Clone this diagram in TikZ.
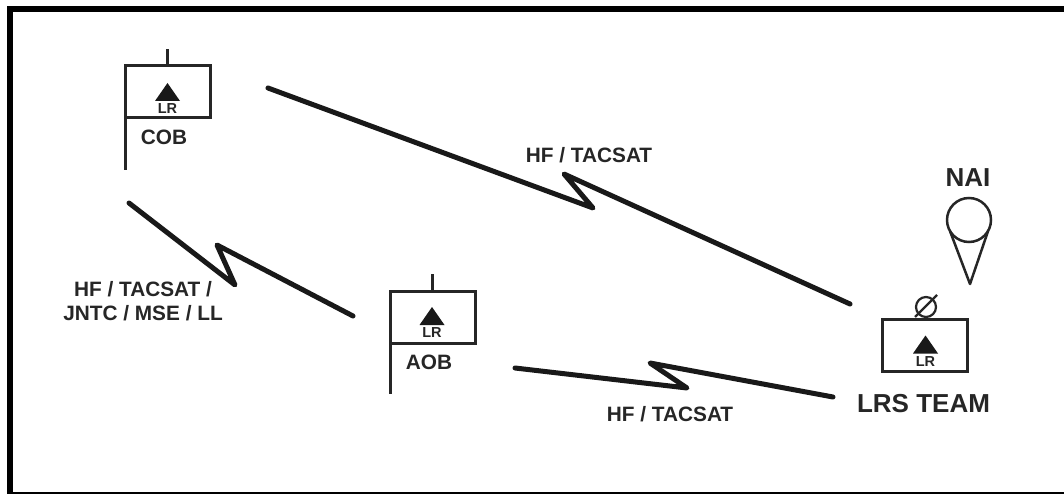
\documentclass[tikz,border=0pt]{standalone}
\usepackage{fontspec}
\setmainfont{Liberation Sans}
\tikzset{
  x=1pt,y=-1pt,
  bolt/.style={draw=black!90,line width=5pt,line join=round,line cap=round},
  unitbox/.style={draw=black!85,line width=3pt,minimum width=85pt,minimum height=52pt,inner sep=0pt,outer sep=0pt},
  staff/.style={draw=black!85,line width=3pt},
  tri/.style={fill=black!90,draw=none},
  lrtext/.style={font=\bfseries\fontsize{14.5}{15}\selectfont,text=black!85,inner sep=0pt},
  lbl/.style={font=\bfseries\fontsize{20.8}{24}\selectfont,text=black!85,inner sep=0pt,align=center},
  biglbl/.style={font=\bfseries\fontsize{26}{28}\selectfont,text=black!85,inner sep=0pt}
}
\newcommand{\unitmark}[3]{%
  \fill[tri] (#2-12.5,#3-1) -- (#2,#3-19) -- (#2+12.5,#3-1) -- cycle;
  \node[lrtext] (#1lr) at (#2,#3+7) {LR};
}
\begin{document}
\begin{tikzpicture}
\useasboundingbox (0,0) rectangle (1064,494);
\fill[white] (0,0) rectangle (1064,494);
\fill[black] (7,6) rectangle (1064,12);
\fill[black] (7,6) rectangle (13,494);
\fill[black] (7,492) rectangle (1064,494);
% COB
\node[unitbox] (cob) at (167.5,92) {};
\coordinate (cobtop) at (167,49);
\coordinate (cobfoot) at (125,170);
\draw[staff] (cob.north -| cobtop) -- (cobtop);
\draw[staff] (cob.south west) -- (cob.south west |- cobfoot);
\unitmark{cob}{167.5}{102}
\node[lbl] (coblabel) at (164,137) {COB};
% AOB
\node[unitbox] (aob) at (432.5,317) {};
\coordinate (aobtop) at (432,274);
\coordinate (aobfoot) at (390,394);
\draw[staff] (aob.north -| aobtop) -- (aobtop);
\draw[staff] (aob.south west) -- (aob.south west |- aobfoot);
\unitmark{aob}{432}{326}
\node[lbl] (aoblabel) at (429,362) {AOB};
% LRS team
\node[unitbox] (lrs) at (925,345.5) {};
\unitmark{lrs}{925.5}{354.5}
\coordinate (slasha) at (915,317);
\coordinate (slashb) at (937,295);
\draw[black!85,line width=2.2pt] (926,307) circle (10);
\draw[black!85,line width=2.2pt] (slasha) -- (slashb);
\node[biglbl] (lrslabel) at (923.5,404) {LRS TEAM};
% NAI
\node[biglbl] (nai) at (968,178) {NAI};
\node[draw=black!85,line width=2.5pt,circle,minimum size=44pt,inner sep=0pt,outer sep=0pt] (naic) at (969,220) {};
\coordinate (naitip) at (970,284);
\draw[black!85,line width=2.5pt,line join=round] (naic.210) -- (naitip) -- (naic.330);
% bolts
\coordinate (a1) at (268,88);
\coordinate (a2) at (593,208);
\coordinate (a3) at (564,174);
\coordinate (a4) at (850,304);
\draw[bolt] (a1) -- (a2) -- (a3) -- (a4);
\coordinate (b1) at (129,203);
\coordinate (b2) at (235,285);
\coordinate (b3) at (217,245);
\coordinate (b4) at (353,316);
\draw[bolt] (b1) -- (b2) -- (b3) -- (b4);
\coordinate (c1) at (515,368);
\coordinate (c2) at (687,388);
\coordinate (c3) at (650,363);
\coordinate (c4) at (833,397);
\draw[bolt] (c1) -- (c2) -- (c3) -- (c4);
% labels
\node[lbl] (l1) at (589,155) {HF / TACSAT};
\node[lbl] (l2) at (143,301) {HF / TACSAT /\\JNTC / MSE / LL};
\node[lbl] (l3) at (670,414) {HF / TACSAT};
\end{tikzpicture}
\end{document}
